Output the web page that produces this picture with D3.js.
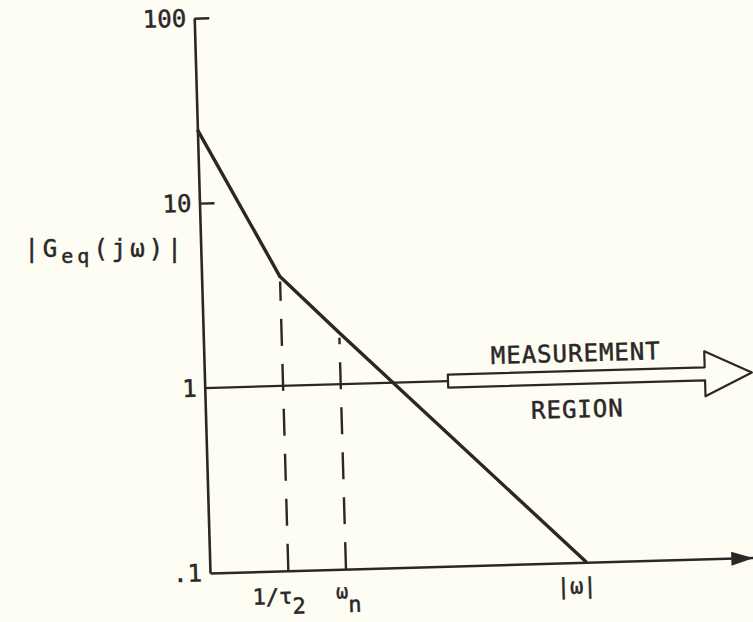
<!DOCTYPE html>
<html>
<head>
<meta charset="utf-8">
<script src="https://cdn.jsdelivr.net/npm/d3@7"></script>
<style>
  html, body { margin: 0; padding: 0; background: #fdfdf4; }
  svg { display: block; }
  text { stroke: #2b2727; stroke-width: 0.5px; }
</style>
</head>
<body>
<svg id="chart" width="753" height="622"></svg>
<script>
// Asymptotic magnitude of Geq(jω) on log–log axes
const curveFreqs  = [0.377, 1.0, 2.05, 41];   // ω at: left edge, 1/τ2, ωn, end at .1
const curveGains  = [25, 3.9, 1.9, 0.1];
const freqDomain  = [0.377, 325];
const gainDomain  = [0.1, 100];
const yTickValues = [0.1, 1, 10, 100];
const yTickLabels = [".1", "1", "10", "100"];
const markerFreqs = [1.0, 2.05];              // 1/τ2 and ωn
const omegaLabelFreq = 36;                   // |ω| label
const regionFreqs = [7.8, 343];               // measurement arrow: start, tip
const regionGain  = 1;

const W = 753, H = 622;
const ink = "#2b2727";
const font = "'DejaVu Sans Mono', monospace";

const svg = d3.select("#chart");
svg.append("rect").attr("width", W).attr("height", H).attr("fill", "#fdfdf4");

// the drawing sits slightly tilted on the page
const g = svg.append("g").attr("transform", "translate(210,573) rotate(-1.63)");

const x = d3.scaleLog().domain(freqDomain).range([0, 543]);
const y = d3.scaleLog().domain(gainDomain).range([0, -555]);

// arrowhead for the frequency axis
svg.append("defs").append("marker")
  .attr("id", "axisHead")
  .attr("markerUnits", "userSpaceOnUse")
  .attr("markerWidth", 24).attr("markerHeight", 16)
  .attr("viewBox", "0 -8 24 16")
  .attr("refX", 22).attr("refY", 0)
  .attr("orient", "auto")
  .append("path").attr("d", "M0,-7L22,0L0,7Z").attr("fill", ink);

// gain axis
const yAxis = d3.axisLeft(y)
  .tickValues(yTickValues)
  .tickFormat((d, i) => yTickLabels[i])
  .tickSizeInner(-15).tickSizeOuter(0).tickPadding(8);
const ya = g.append("g").call(yAxis);
ya.select(".domain").attr("stroke", ink).attr("stroke-width", 2.6);
ya.selectAll(".tick line")
  .attr("stroke", ink).attr("stroke-width", 2.4)
  .attr("display", d => d >= 10 ? null : "none");
ya.selectAll(".tick text")
  .attr("font-family", font).attr("font-size", 24).attr("fill", ink);

// frequency axis
const xAxis = d3.axisBottom(x).tickValues([]).tickSizeOuter(0);
const xa = g.append("g").call(xAxis);
xa.select(".domain")
  .attr("stroke", ink).attr("stroke-width", 2.6)
  .attr("marker-end", "url(#axisHead)");

// dashed guides from the axis up to the curve
const gainAt = f => curveGains[curveFreqs.indexOf(f)];
g.selectAll("line.guide").data(markerFreqs).join("line")
  .attr("class", "guide")
  .attr("x1", d => x(d)).attr("x2", d => x(d))
  .attr("y1", y(0.1)).attr("y2", d => y(gainAt(d)) + 5)
  .attr("stroke", ink).attr("stroke-width", 2.4)
  .attr("stroke-dasharray", "27 18");

// unity line and measurement-region arrow
const yy = y(regionGain);
const x0 = x(regionFreqs[0]), x1 = x(regionFreqs[1]);
const hb = x1 - 47, sh = 6.5, hh = 22.5;
g.append("line")
  .attr("x1", 0).attr("x2", x0).attr("y1", yy).attr("y2", yy)
  .attr("stroke", ink).attr("stroke-width", 2.2);
g.append("path")
  .attr("d", `M${x0},${yy - sh}L${hb},${yy - sh}L${hb},${yy - hh}L${x1},${yy}` +
             `L${hb},${yy + hh}L${hb},${yy + sh}L${x0},${yy + sh}Z`)
  .attr("fill", "#fdfdf4").attr("stroke", ink).attr("stroke-width", 2.2)
  .attr("stroke-linejoin", "round");
g.append("text")
  .attr("x", (x0 + hb) / 2).attr("y", yy - 16)
  .attr("text-anchor", "middle").attr("letter-spacing", 1)
  .attr("font-family", font).attr("font-size", 24).attr("fill", ink)
  .text("MEASUREMENT");
g.append("text")
  .attr("x", (x0 + hb) / 2).attr("y", yy + 40)
  .attr("text-anchor", "middle").attr("letter-spacing", 1)
  .attr("font-family", font).attr("font-size", 24).attr("fill", ink)
  .text("REGION");

// magnitude curve
const pts = curveFreqs.map((f, i) => [x(f), y(curveGains[i])]);
g.append("path")
  .attr("d", d3.line()(pts))
  .attr("fill", "none").attr("stroke", ink).attr("stroke-width", 3.4)
  .attr("stroke-linejoin", "round");

// frequency labels
const t1 = g.append("text")
  .attr("x", x(markerFreqs[0]) - 10).attr("y", 33)
  .attr("text-anchor", "middle")
  .attr("font-family", font).attr("font-size", 22).attr("fill", ink);
t1.append("tspan").text("1/τ");
t1.append("tspan").attr("dy", 10).text("2");

const t2 = g.append("text")
  .attr("x", x(markerFreqs[1]) + 2).attr("y", 29)
  .attr("text-anchor", "middle")
  .attr("font-family", font).attr("font-size", 20).attr("fill", ink);
t2.append("tspan").text("ω");
t2.append("tspan").attr("dy", 14).attr("font-size", 22).text("n");

g.append("text")
  .attr("x", x(omegaLabelFreq)).attr("y", 31)
  .attr("text-anchor", "middle")
  .attr("font-family", font).attr("font-size", 22).attr("fill", ink)
  .text("|ω|");

// gain axis title
const yl = svg.append("text")
  .attr("x", 105).attr("y", 257)
  .attr("text-anchor", "middle").attr("letter-spacing", 4)
  .attr("font-family", font).attr("font-size", 24).attr("fill", ink);
yl.append("tspan").text("|G");
yl.append("tspan").attr("dy", 6).attr("font-size", 20).text("eq");
yl.append("tspan").attr("dy", -6).text("(jω)|");
</script>
</body>
</html>
